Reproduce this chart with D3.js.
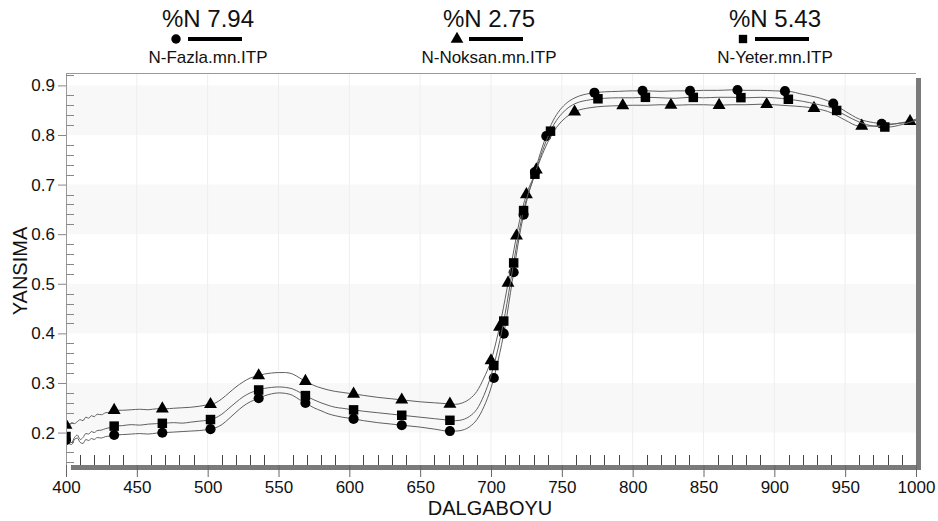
<!DOCTYPE html>
<html>
<head>
<meta charset="utf-8">
<script src="https://cdn.jsdelivr.net/npm/d3@7"></script>
<style>
body { margin: 0; background: #fff; }
text { font-family: Arial, "Liberation Sans", sans-serif; fill: #111; }
</style>
</head>
<body>
<div class="stimulus"></div>
<script>
// wavelengths (nm)
var wavelengths = [400,402,404,406,408,410,412,414,416,418,420,422,425,428,431,
	434,440,446,452,458,464,470,476,482,488,494,500,
	505,510,515,520,525,530,535,540,545,550,555,560,565,570,575,580,585,590,595,600,
	610,620,630,640,650,660,670,675,680,685,690,695,
	700,705,710,715,720,725,730,735,740,745,750,755,760,
	770,780,790,800,810,820,830,840,850,860,870,880,890,900,
	910,920,930,940,950,960,970,980,990,1000];

var fazla = [.185,.178,.176,.186,.189,.180,.178,.186,.184,.188,.186,.190,.189,.192,.193,
	.195,.196,.197,.198,.197,.199,.200,.201,.202,.203,.204,.206,
	.209,.216,.228,.241,.253,.262,.268,.274,.278,.280,.279,.275,.266,.258,.250,.244,.238,.234,.231,.229,
	.224,.220,.217,.214,.211,.207,.203,.203,.205,.212,.226,.252,
	.290,.345,.415,.505,.595,.665,.715,.765,.805,.835,.855,.868,.876,
	.884,.887,.888,.889,.889,.888,.889,.889,.890,.890,.891,.890,.890,.889,
	.888,.882,.876,.866,.848,.832,.825,.822,.824,.832];

var yeter = [.192,.184,.180,.190,.195,.186,.190,.198,.197,.202,.200,.204,.205,.208,.210,
	.213,.214,.216,.215,.217,.218,.219,.220,.219,.221,.223,.225,
	.229,.237,.249,.261,.272,.280,.285,.289,.291,.292,.291,.288,.281,.273,.266,.260,.255,.251,.249,.247,
	.243,.240,.237,.234,.231,.228,.225,.224,.226,.233,.247,.275,
	.315,.370,.440,.525,.608,.670,.712,.757,.795,.824,.843,.856,.864,
	.871,.874,.875,.875,.876,.875,.874,.876,.875,.876,.876,.875,.876,.875,
	.872,.868,.862,.855,.840,.826,.818,.816,.821,.830];

var noksan = [.215,.212,.220,.218,.222,.226,.224,.231,.229,.234,.232,.237,.236,.240,.241,
	.245,.245,.246,.247,.246,.248,.248,.249,.250,.251,.253,.256,
	.259,.268,.280,.292,.302,.310,.314,.318,.320,.321,.321,.318,.310,.302,.295,.290,.286,.283,.281,.279,
	.275,.271,.268,.265,.262,.260,.258,.257,.260,.268,.283,.310,
	.345,.400,.470,.550,.625,.680,.715,.752,.785,.810,.828,.840,.848,
	.855,.858,.859,.860,.860,.861,.860,.861,.861,.860,.861,.861,.862,.861,
	.859,.857,.853,.845,.830,.818,.818,.820,.825,.829];

// wavelengths where the symbols sit on each curve
var fazlaMarks = [400,434,468,502,536,569,603,637,671,702,709,716,723,731,739,773,807,840.5,874,907.5,941.6,975.8];
var yeterMarks = [400,434,468,502,536,569,603,637,671,702,709,716,723,731,742,775.5,809,842.8,876.4,909.9,944,978];
var noksanMarks = [400,434,468,502,536,569,603,637,671,700,706,712,718,725,732,759,793,827,861,894.6,928,961.7,995.8];

var legendTitles = ["%N 7.94", "%N 2.75", "%N 5.43"];
var legendNames = ["N-Fazla.mn.ITP", "N-Noksan.mn.ITP", "N-Yeter.mn.ITP"];
var xTicks = [400,450,500,550,600,650,700,750,800,850,900,950,1000];
var yTicks = [0.2,0.3,0.4,0.5,0.6,0.7,0.8,0.9];

var W = 938, H = 521;
var pLeft = 66, pRight = 916, pTop = 73, pBottom = 465;

var stage = d3.select(".stimulus").insert("svg")
	.attr("width", W).attr("height", H);

stage.append("defs").append("clipPath").attr("id", "plotclip")
	.append("rect").attr("x", pLeft + 1).attr("y", pTop)
	.attr("width", pRight - pLeft - 1).attr("height", pBottom - pTop);

var x = d3.scaleLinear().domain([400, 1000]).range([pLeft, pRight]);
var y = d3.scaleLinear().domain([0.1346, 0.925]).range([pBottom, pTop]);

// shadow + plot background
stage.append("rect").attr("x", pLeft + 5).attr("y", pTop + 5)
	.attr("width", pRight - pLeft).attr("height", pBottom - pTop)
	.style("fill", "#7a7a7a");
stage.append("rect").attr("x", pLeft).attr("y", pTop)
	.attr("width", pRight - pLeft).attr("height", pBottom - pTop)
	.style("fill", "#fff");

// alternating bands
stage.selectAll(".band").data([0.2, 0.4, 0.6, 0.8]).enter().append("rect")
	.attr("class", "band")
	.attr("x", pLeft + 1).attr("width", pRight - pLeft - 1)
	.attr("y", function(d) { return y(d + 0.1); })
	.attr("height", function(d) { return y(d) - y(d + 0.1); })
	.style("fill", "#f8f8f8");

// faint vertical grid
stage.selectAll(".vgrid").data(xTicks.slice(1, -1)).enter().append("line")
	.attr("x1", function(d) { return x(d); }).attr("x2", function(d) { return x(d); })
	.attr("y1", pTop).attr("y2", pBottom)
	.style("stroke", "#eeeeee").style("stroke-width", 1);

// frame top/left
stage.append("line").attr("x1", pLeft).attr("x2", pRight).attr("y1", pTop + 0.5).attr("y2", pTop + 0.5)
	.style("stroke", "#999");
stage.append("line").attr("x1", pLeft + 0.5).attr("x2", pLeft + 0.5).attr("y1", pTop).attr("y2", pBottom + 5)
	.style("stroke", "#999");

// y axis ticks
var yMinor = d3.range(0.14, 0.925, 0.02).filter(function(v) {
	return Math.abs(Math.round(v * 10) - v * 10) > 0.01;
});
stage.selectAll(".ymin").data(yMinor).enter().append("line")
	.attr("x1", pLeft).attr("x2", pLeft + 8)
	.attr("y1", function(d) { return Math.round(y(d)) + 0.5; })
	.attr("y2", function(d) { return Math.round(y(d)) + 0.5; })
	.style("stroke", "#888");
var yAxis = d3.axisLeft(y).tickValues(yTicks).tickSize(8).tickPadding(3)
	.tickFormat(d3.format(".1f"));
var gy = stage.append("g").attr("transform", "translate(" + pLeft + ",0)").call(yAxis);
gy.select(".domain").remove();
gy.selectAll("line").style("stroke", "#888");
gy.selectAll("text").style("font-size", "17px").style("fill", "#111");

// x axis ticks
var xMinor = d3.range(410, 1000, 10).filter(function(v) { return v % 50 != 0; });
stage.selectAll(".xmin").data(xMinor).enter().append("line")
	.attr("x1", function(d) { return Math.round(x(d)) + 0.5; })
	.attr("x2", function(d) { return Math.round(x(d)) + 0.5; })
	.attr("y1", pBottom - 10).attr("y2", pBottom)
	.style("stroke", "#444");
var xAxis = d3.axisBottom(x).tickValues(xTicks).tickSize(12).tickPadding(4)
	.tickFormat(d3.format("d"));
var gx = stage.append("g").attr("transform", "translate(0," + pBottom + ")").call(xAxis);
gx.select(".domain").remove();
gx.selectAll("line").style("stroke", "#666");
gx.selectAll("text").style("font-size", "17px").style("fill", "#111");

// axis titles
stage.append("text").attr("x", 490).attr("y", 515)
	.attr("text-anchor", "middle").style("font-size", "20px").text("DALGABOYU");
stage.append("text").attr("transform", "translate(27,271) rotate(-90)")
	.attr("text-anchor", "middle").style("font-size", "20px").text("YANSIMA");

// curves
var series = [
	{ values: fazla, marks: fazlaMarks, shape: d3.symbolCircle, size: 80 },
	{ values: noksan, marks: noksanMarks, shape: d3.symbolTriangle, size: 72 },
	{ values: yeter, marks: yeterMarks, shape: d3.symbolSquare, size: 90 }
];

var line = d3.line()
	.x(function(d) { return x(d[0]); })
	.y(function(d) { return y(d[1]); })
	.curve(d3.curveMonotoneX);

function yOnPath(node, px) {
	var lo = 0, hi = node.getTotalLength();
	for (var i = 0; i < 40; i++) {
		var mid = (lo + hi) / 2;
		if (node.getPointAtLength(mid).x < px) lo = mid; else hi = mid;
	}
	return node.getPointAtLength((lo + hi) / 2).y;
}

var plot = stage.append("g").attr("clip-path", "url(#plotclip)");

series.forEach(function(s) {
	var pts = wavelengths.map(function(w, i) { return [w, s.values[i]]; });
	var path = plot.append("path").datum(pts)
		.attr("d", line)
		.style("fill", "none").style("stroke", "#606060").style("stroke-width", 1);
	var node = path.node();
	plot.selectAll(null).data(s.marks).enter().append("path")
		.attr("d", d3.symbol().type(s.shape).size(s.size))
		.attr("transform", function(d) {
			return "translate(" + x(d) + "," + yOnPath(node, x(d)) + ")";
		})
		.style("fill", "#000");
});

// legend
var legendX = [208, 489, 775];
var shapes = [d3.symbolCircle, d3.symbolTriangle, d3.symbolSquare];
var lg = stage.selectAll(".leg").data(legendX).enter().append("g")
	.attr("transform", function(d) { return "translate(" + d + ",0)"; });
lg.append("text").attr("y", 27).attr("text-anchor", "middle")
	.style("font-size", "24px").text(function(d, i) { return legendTitles[i]; });
lg.append("path").attr("d", function(d, i) { return d3.symbol().type(shapes[i]).size(70)(); })
	.attr("transform", "translate(-32,39)").style("fill", "#000");
lg.append("line").attr("x1", -20).attr("x2", 34).attr("y1", 39).attr("y2", 39)
	.style("stroke", "#000").style("stroke-width", 4);
lg.append("text").attr("y", 63).attr("text-anchor", "middle")
	.style("font-size", "17px").text(function(d, i) { return legendNames[i]; });
</script>
</body>
</html>
